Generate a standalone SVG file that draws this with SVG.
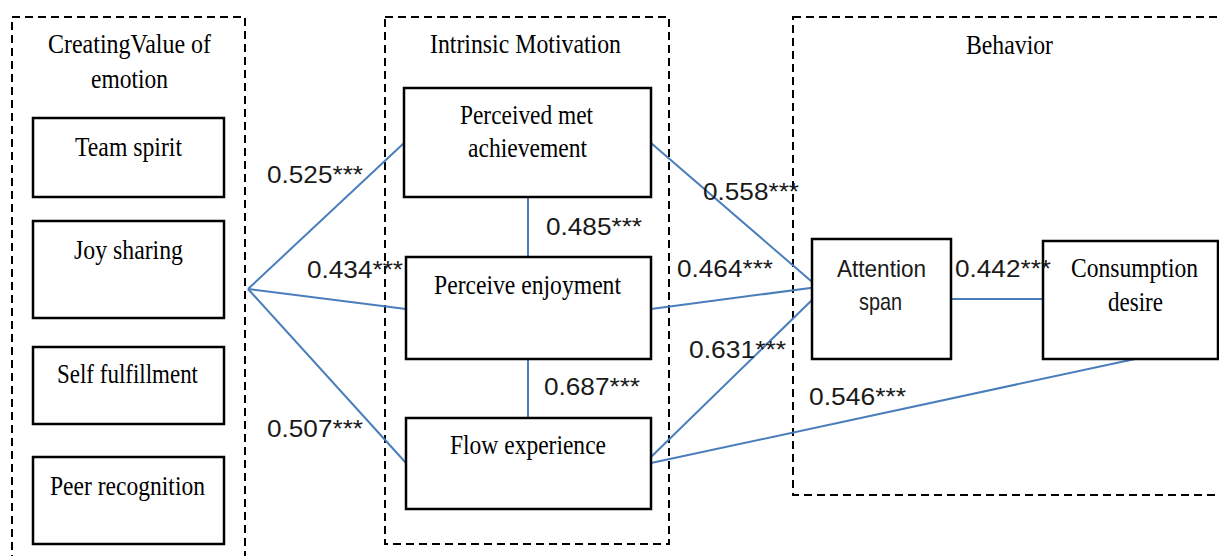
<svg xmlns="http://www.w3.org/2000/svg" width="1219" height="556" viewBox="0 0 1219 556">
<style>
.grp{fill:none;stroke:#000;stroke-width:2;stroke-dasharray:8 5}
.box{fill:#fff;stroke:#000;stroke-width:2.5}
.ser{font-family:"Liberation Serif","Times New Roman",serif;font-size:27px;fill:#000}
.san{font-family:"Liberation Sans",Arial,sans-serif;font-size:24px;fill:#1a1a1a}
.con line{stroke:#4a7ebb;stroke-width:2}
</style>
<rect fill="#fff" x="0" y="0" width="1219" height="556"/>
<g id="group-emotion">
<rect class="grp" x="12" y="17" width="233" height="560"/>
<text class="ser" x="48" y="53" textLength="163" lengthAdjust="spacingAndGlyphs">CreatingValue of</text>
<text class="ser" x="91" y="88" textLength="77" lengthAdjust="spacingAndGlyphs">emotion</text>
</g>
<g id="group-motivation">
<rect class="grp" x="385" y="17" width="284" height="527"/>
<text class="ser" x="430" y="53" textLength="191" lengthAdjust="spacingAndGlyphs">Intrinsic Motivation</text>
</g>
<g id="group-behavior">
<rect class="grp" x="793" y="17" width="440" height="478"/>
<text class="ser" x="966" y="54" textLength="87" lengthAdjust="spacingAndGlyphs">Behavior</text>
</g>
<g class="con" id="connectors">
<line x1="248" y1="289" x2="404" y2="143"/>
<line x1="248" y1="289" x2="406" y2="309"/>
<line x1="248" y1="289" x2="406" y2="463"/>
<line x1="528" y1="197" x2="528" y2="257"/>
<line x1="528" y1="359" x2="528" y2="418"/>
<line x1="651" y1="143" x2="818" y2="287"/>
<line x1="651" y1="309" x2="818" y2="287"/>
<line x1="651" y1="457" x2="812" y2="300"/>
<line x1="651" y1="463" x2="1135" y2="359"/>
<line x1="951" y1="299" x2="1043" y2="299"/>
</g>
<g id="team-spirit">
<rect class="box" x="33" y="118" width="191" height="79"/>
<text class="ser" x="75" y="156" textLength="107" lengthAdjust="spacingAndGlyphs">Team spirit</text>
</g>
<g id="joy-sharing">
<rect class="box" x="33" y="221" width="191" height="97"/>
<text class="ser" x="74" y="259" textLength="109" lengthAdjust="spacingAndGlyphs">Joy sharing</text>
</g>
<g id="self-fulfillment">
<rect class="box" x="33" y="347" width="191" height="77"/>
<text class="ser" x="57" y="383" textLength="141" lengthAdjust="spacingAndGlyphs">Self fulfillment</text>
</g>
<g id="peer-recognition">
<rect class="box" x="33" y="457" width="191" height="87"/>
<text class="ser" x="50" y="495" textLength="155" lengthAdjust="spacingAndGlyphs">Peer recognition</text>
</g>
<g id="perceived-met-achievement">
<rect class="box" x="404" y="88" width="247" height="109"/>
<text class="ser" x="460" y="124" textLength="133" lengthAdjust="spacingAndGlyphs">Perceived met</text>
<text class="ser" x="468" y="157" textLength="119" lengthAdjust="spacingAndGlyphs">achievement</text>
</g>
<g id="perceive-enjoyment">
<rect class="box" x="406" y="257" width="245" height="102"/>
<text class="ser" x="434" y="294" textLength="187" lengthAdjust="spacingAndGlyphs">Perceive enjoyment</text>
</g>
<g id="flow-experience">
<rect class="box" x="406" y="418" width="245" height="91"/>
<text class="ser" x="450" y="454" textLength="156" lengthAdjust="spacingAndGlyphs">Flow experience</text>
</g>
<g id="attention-span">
<rect class="box" x="812" y="239" width="139" height="120"/>
<text class="san" x="837" y="277" textLength="89" lengthAdjust="spacingAndGlyphs">Attention</text>
<text class="san" x="859" y="310" textLength="43" lengthAdjust="spacingAndGlyphs">span</text>
</g>
<g id="consumption-desire">
<rect class="box" x="1043" y="241" width="175" height="118"/>
<text class="ser" x="1071" y="277" textLength="127" lengthAdjust="spacingAndGlyphs">Consumption</text>
<text class="ser" x="1108" y="311" textLength="55" lengthAdjust="spacingAndGlyphs">desire</text>
</g>
<g id="labels">
<text class="san" x="267" y="183" textLength="96" lengthAdjust="spacingAndGlyphs">0.525***</text>
<text class="san" x="307" y="278" textLength="96" lengthAdjust="spacingAndGlyphs">0.434***</text>
<text class="san" x="267" y="437" textLength="96" lengthAdjust="spacingAndGlyphs">0.507***</text>
<text class="san" x="546" y="235" textLength="96" lengthAdjust="spacingAndGlyphs">0.485***</text>
<text class="san" x="544" y="395" textLength="96" lengthAdjust="spacingAndGlyphs">0.687***</text>
<text class="san" x="703" y="200" textLength="96" lengthAdjust="spacingAndGlyphs">0.558***</text>
<text class="san" x="677" y="277" textLength="96" lengthAdjust="spacingAndGlyphs">0.464***</text>
<text class="san" x="689" y="358" textLength="97" lengthAdjust="spacingAndGlyphs">0.631***</text>
<text class="san" x="955" y="277" textLength="96" lengthAdjust="spacingAndGlyphs">0.442***</text>
<text class="san" x="809" y="405" textLength="97" lengthAdjust="spacingAndGlyphs">0.546***</text>
</g>
</svg>
